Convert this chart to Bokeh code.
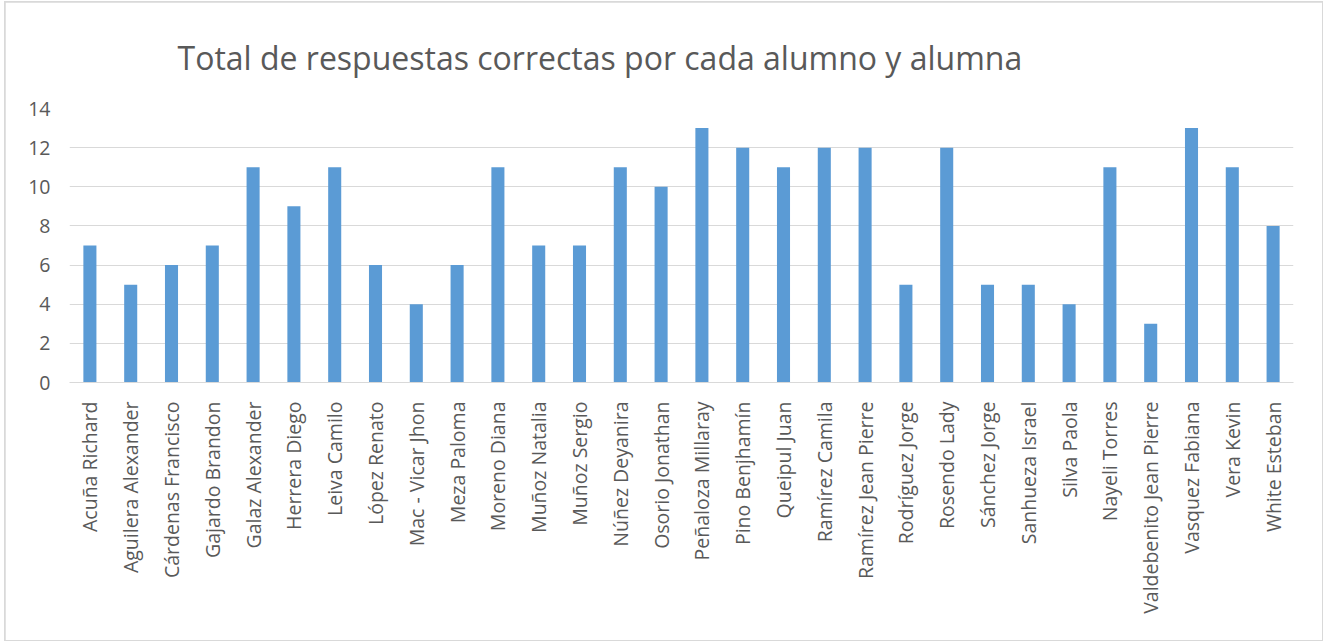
from bokeh.plotting import figure
from bokeh.models import Range1d, FactorRange, FixedTicker
from bokeh.embed import file_html
from bokeh.resources import INLINE
import math

students = ["Acuña Richard", "Aguilera Alexander", "Cárdenas Francisco", "Gajardo Brandon",
            "Galaz Alexander", "Herrera Diego", "Leiva Camilo", "López Renato",
            "Mac - Vicar Jhon", "Meza Paloma", "Moreno Diana", "Muñoz Natalia",
            "Muñoz Sergio", "Núñez Deyanira", "Osorio Jonathan", "Peñaloza Millaray",
            "Pino Benjhamín", "Queipul Juan", "Ramírez Camila", "Ramírez Jean Pierre",
            "Rodríguez Jorge", "Rosendo Lady", "Sánchez Jorge", "Sanhueza Israel",
            "Silva Paola", "Nayeli Torres", "Valdebenito Jean Pierre", "Vasquez Fabiana",
            "Vera Kevin", "White Esteban"]
correct = [7, 5, 6, 7, 11, 9, 11, 6, 4, 6, 11, 7, 7, 11, 10, 13, 12, 11, 12, 12,
           5, 12, 5, 5, 4, 11, 3, 13, 11, 8]
y_ticks = [0, 2, 4, 6, 8, 10, 12, 14]
title_text = "Total de respuestas correctas por cada alumno y alumna"

FONT = "Open Sans"
TXT = "#595959"

p = figure(width=1317, height=638, output_backend="svg", toolbar_location=None,
           x_range=FactorRange(*students, range_padding=0), y_range=Range1d(0, 14),
           min_border_left=64, min_border_right=29, min_border_top=106, min_border_bottom=258,
           margin=(2, 0, 0, 5))

p.vbar(x=students, top=correct, width=0.32, fill_color="#5B9BD5", line_color=None)

p.title.text = title_text
p.title.text_font = FONT
p.title.text_font_size = "32px"
p.title.text_font_style = "normal"
p.title.text_color = TXT
p.title.align = "left"
p.title.offset = 108
p.title.standoff = 60

p.outline_line_color = None
p.xgrid.grid_line_color = None
p.ygrid.grid_line_color = "#D9D9D9"
p.ygrid.grid_line_width = 1

p.yaxis.ticker = FixedTicker(ticks=y_ticks)
p.yaxis.axis_line_color = None
p.yaxis.major_tick_line_color = None
p.yaxis.minor_tick_line_color = None
p.yaxis.major_label_standoff = 13
p.yaxis.major_label_text_font = FONT
p.yaxis.major_label_text_font_size = "19.5px"
p.yaxis.major_label_text_color = TXT

p.xaxis.axis_line_color = "#D9D9D9"
p.xaxis.major_tick_line_color = None
p.xaxis.minor_tick_line_color = None
p.xaxis.major_label_orientation = math.pi / 2
p.xaxis.major_label_standoff = 13
p.xaxis.major_label_text_font = FONT
p.xaxis.major_label_text_font_size = "19.5px"
p.xaxis.major_label_text_color = TXT

p.styles = {"outline": "2px solid #D9D9D9", "outline-offset": "-1px"}

open("out.html", "w").write(file_html(p, INLINE))
